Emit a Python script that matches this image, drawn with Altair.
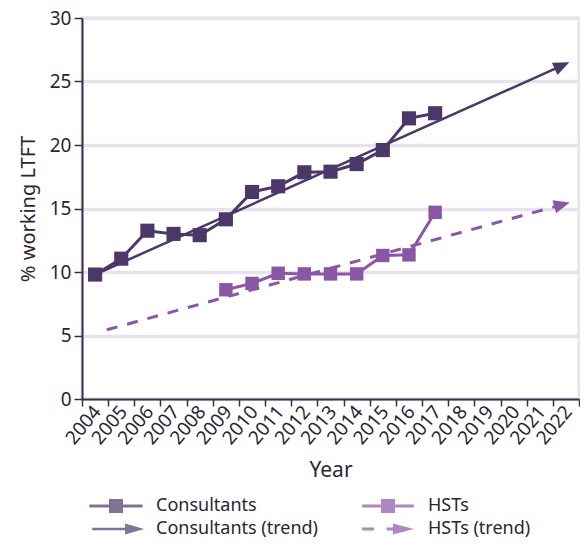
import altair as alt
import pandas as pd

# ---------------- data ----------------
cons_years = list(range(2004, 2018))
cons_values = [9.8, 11.05, 13.25, 13.0, 12.9, 14.15, 16.3, 16.75, 17.85, 17.9, 18.5, 19.6, 22.1, 22.5]

hst_years = list(range(2009, 2018))
hst_values = [8.6, 9.1, 9.9, 9.85, 9.85, 9.85, 11.3, 11.35, 14.7]

cons_trend_years = [2004, 2021.85]
cons_trend_values = [9.8, 26.25]
hst_trend_years = [2004.45, 2021.85]
hst_trend_values = [5.45, 15.3]

arrow_years = [2021.85, 2021.85]
arrow_values = [26.25, 15.3]
arrow_series = ["Consultants (trend)", "HSTs (trend)"]

year_ticks = [2003.5 + i for i in range(20)]
y_ticks = [0, 5, 10, 15, 20, 25, 30]

series_names = ["Consultants", "Consultants (trend)", "HSTs", "HSTs (trend)"]

# ---------------- styling ----------------
FONT = "Noto Sans"
TEXT = "#2d2436"
AXIS = "#3a2e45"
DARK = "#4b3868"
LIGHT = "#8a57a4"
GRID = "#e8e1ee"

ARROW = "M-1,-0.85L1,0L-1,0.85Z"
legend_paths = [
    "M-3.8,-0.22H3.8V0.22H-3.8Z M-1,-1H1V1H-1Z",
    "M-3.4,-0.18H1.6V0.18H-3.4Z M1.3,-0.8L4,0L1.3,0.8Z",
    "M-3.7,-0.22H3.7V0.22H-3.7Z M-1,-1H1V1H-1Z",
    "M-3.7,-0.22H-2.0V0.22H-3.7Z M-0.2,-0.22H1.0V0.22H-0.2Z M0.7,-0.8L3.7,0L0.7,0.8Z",
]

cons_df = pd.DataFrame({"year": cons_years, "value": cons_values})
hst_df = pd.DataFrame({"year": hst_years, "value": hst_values})
cons_tr = pd.DataFrame({"year": cons_trend_years, "value": cons_trend_values})
hst_tr = pd.DataFrame({"year": hst_trend_years, "value": hst_trend_values})
arrows = pd.DataFrame({"year": arrow_years, "value": arrow_values, "series": arrow_series})
leg_df = pd.DataFrame({"series": series_names, "year": [2010] * 4, "value": [-50] * 4})

x_scale = alt.Scale(domain=[2003.5, 2022.5], nice=False, zero=False)
y_scale = alt.Scale(domain=[0, 30], nice=False)

x_enc = alt.X(
    "year:Q",
    scale=x_scale,
    axis=alt.Axis(
        values=year_ticks,
        tickCount=60,
        labelExpr="datum.value > 2022 ? '' : format(datum.value + 0.5, 'd')",
        labelOffset=15,
        labelAngle=310,
        labelAlign="right",
        labelBaseline="middle",
        labelFlush=False,
        labelOverlap=False,
        labelBound=False,
        labelPadding=2,
        labelFontSize=19,
        tickSize=7,
        grid=False,
        title="Year",
        titleFontSize=21,
        titlePadding=12,
    ),
)
y_enc = alt.Y(
    "value:Q",
    scale=y_scale,
    axis=alt.Axis(
        values=y_ticks,
        tickCount=10,
        tickSize=8,
        labelPadding=3,
        labelFontSize=19,
        grid=True,
        gridColor=GRID,
        gridWidth=3.5,
        title="% working LTFT",
        titleFontSize=20,
        titlePadding=11,
    ),
)

legend = alt.Legend(
    title=None,
    orient="none",
    legendX=25,
    legendY=479,
    columns=2,
    symbolSize=196,
    symbolStrokeWidth=0,
    labelFont=FONT,
    labelFontSize=18,
    labelColor=TEXT,
    labelOffset=31,
    labelLimit=400,
    rowPadding=5,
    columnPadding=43,
    padding=0,
)

legend_layer = alt.Chart(leg_df).mark_point(filled=True, clip=True).encode(
    x=x_enc,
    y=y_enc,
    color=alt.Color("series:N", scale=alt.Scale(domain=series_names, range=[DARK, DARK, LIGHT, LIGHT]), legend=legend),
    shape=alt.Shape("series:N", scale=alt.Scale(domain=series_names, range=legend_paths), legend=legend),
)

cons_trend_line = alt.Chart(cons_tr).mark_line(color=DARK, strokeWidth=2.5).encode(x="year:Q", y="value:Q")
hst_trend_line = alt.Chart(hst_tr).mark_line(color=LIGHT, strokeWidth=3, strokeDash=[11, 10]).encode(
    x="year:Q", y="value:Q"
)
cons_arrow = alt.Chart(arrows).transform_filter(alt.datum.series == "Consultants (trend)").mark_point(
    shape=ARROW, filled=True, size=256, angle=336, color=DARK, opacity=1
).encode(x="year:Q", y="value:Q")
hst_arrow = alt.Chart(arrows).transform_filter(alt.datum.series == "HSTs (trend)").mark_point(
    shape=ARROW, filled=True, size=256, angle=345, color=LIGHT, opacity=1
).encode(x="year:Q", y="value:Q")

cons_line = alt.Chart(cons_df).mark_line(color=DARK, strokeWidth=3).encode(x="year:Q", y="value:Q")
cons_pts = alt.Chart(cons_df).mark_point(shape="square", filled=True, size=200, color=DARK, opacity=1).encode(
    x="year:Q", y="value:Q"
)
hst_line = alt.Chart(hst_df).mark_line(color=LIGHT, strokeWidth=3).encode(x="year:Q", y="value:Q")
hst_pts = alt.Chart(hst_df).mark_point(shape="square", filled=True, size=180, color=LIGHT, opacity=1).encode(
    x="year:Q", y="value:Q"
)

chart = (
    alt.layer(
        legend_layer,
        cons_trend_line,
        hst_trend_line,
        cons_arrow,
        hst_arrow,
        cons_line,
        hst_line,
        cons_pts,
        hst_pts,
    )
    .properties(
        width=497,
        height=381,
        autosize=alt.AutoSizeParams(type="none"),
        padding={"left": 74, "top": 10, "right": 1, "bottom": 141},
        background="white",
    )
    .configure_view(stroke=GRID, strokeWidth=3)
    .configure_axis(
        labelFont=FONT,
        titleFont=FONT,
        labelColor=TEXT,
        titleColor=TEXT,
        domainColor=AXIS,
        tickColor=AXIS,
        domainWidth=2,
        tickWidth=1.5,
        titleFontWeight="normal",
    )
    .configure_axisX(labelOverlap=False)
)

chart.save("out.html", embed_options={"renderer": "svg", "actions": False})
